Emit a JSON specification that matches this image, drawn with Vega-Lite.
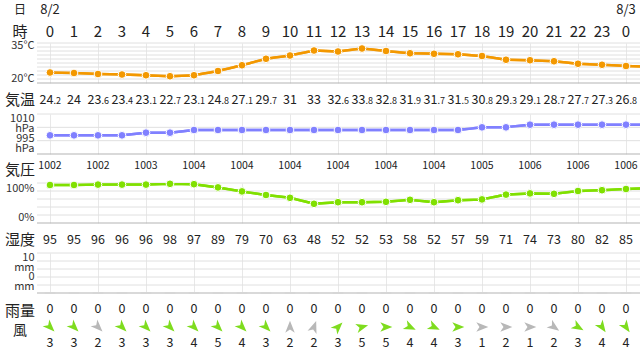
{
  "$schema": "https://vega.github.io/schema/vega-lite/v6.json",
  "padding": 0,
  "spacing": 0,
  "bounds": "flush",
  "config": {
    "view": {"stroke": null},
    "font": "Noto Sans CJK JP",
    "text": {"font": "Noto Sans CJK JP", "color": "#222"},
    "axis": {"labelFont": "Noto Sans CJK JP"}
  },
  "datasets": {
    "wx": [
      {"hour": 0, "t": 24.2, "p": 1002, "hum": 95, "rain": 0, "ws": 3, "wd": 135},
      {"hour": 1, "t": 24, "p": 1002, "hum": 95, "rain": 0, "ws": 3, "wd": 135},
      {"hour": 2, "t": 23.6, "p": 1002, "hum": 96, "rain": 0, "ws": 2, "wd": 135},
      {"hour": 3, "t": 23.4, "p": 1002, "hum": 96, "rain": 0, "ws": 3, "wd": 135},
      {"hour": 4, "t": 23.1, "p": 1003, "hum": 96, "rain": 0, "ws": 3, "wd": 135},
      {"hour": 5, "t": 22.7, "p": 1003, "hum": 98, "rain": 0, "ws": 3, "wd": 135},
      {"hour": 6, "t": 23.1, "p": 1004, "hum": 97, "rain": 0, "ws": 4, "wd": 135},
      {"hour": 7, "t": 24.8, "p": 1004, "hum": 89, "rain": 0, "ws": 5, "wd": 135},
      {"hour": 8, "t": 27.1, "p": 1004, "hum": 79, "rain": 0, "ws": 4, "wd": 135},
      {"hour": 9, "t": 29.7, "p": 1004, "hum": 70, "rain": 0, "ws": 3, "wd": 135},
      {"hour": 10, "t": 31, "p": 1004, "hum": 63, "rain": 0, "ws": 2, "wd": 0},
      {"hour": 11, "t": 33, "p": 1004, "hum": 48, "rain": 0, "ws": 2, "wd": 20},
      {"hour": 12, "t": 32.6, "p": 1004, "hum": 52, "rain": 0, "ws": 3, "wd": 45},
      {"hour": 13, "t": 33.8, "p": 1004, "hum": 52, "rain": 0, "ws": 5, "wd": 75},
      {"hour": 14, "t": 32.8, "p": 1004, "hum": 53, "rain": 0, "ws": 5, "wd": 90},
      {"hour": 15, "t": 31.9, "p": 1004, "hum": 58, "rain": 0, "ws": 4, "wd": 115},
      {"hour": 16, "t": 31.7, "p": 1004, "hum": 52, "rain": 0, "ws": 4, "wd": 115},
      {"hour": 17, "t": 31.5, "p": 1004, "hum": 57, "rain": 0, "ws": 3, "wd": 90},
      {"hour": 18, "t": 30.8, "p": 1005, "hum": 59, "rain": 0, "ws": 1, "wd": 90},
      {"hour": 19, "t": 29.3, "p": 1005, "hum": 71, "rain": 0, "ws": 2, "wd": 90},
      {"hour": 20, "t": 29.1, "p": 1006, "hum": 74, "rain": 0, "ws": 1, "wd": 90},
      {"hour": 21, "t": 28.7, "p": 1006, "hum": 73, "rain": 0, "ws": 2, "wd": 125},
      {"hour": 22, "t": 27.7, "p": 1006, "hum": 80, "rain": 0, "ws": 3, "wd": 120},
      {"hour": 23, "t": 27.3, "p": 1006, "hum": 82, "rain": 0, "ws": 4, "wd": 145},
      {"hour": 24, "t": 26.8, "p": 1006, "hum": 85, "rain": 0, "ws": 4, "wd": 145},
      {"hour": 25, "t": 26.5, "p": 1006, "hum": 87}
    ]
  },
  "vconcat": [
    {
      "width": 640, "height": 20,
      "layer": [
        {"data": {"values": [{"hour": -1.25, "label": "日"}]}, "mark": {"type": "text", "fontSize": 12},
         "encoding": {"x": {"field": "hour", "type": "quantitative", "scale": {"domain": [-2.0833, 24.5833], "nice": false, "zero": false}, "axis": null}, "text": {"field": "label"}}},
        {"data": {"values": [{"hour": 0, "d": "8/2"}, {"hour": 24, "d": "8/3"}]}, "mark": {"type": "text", "fontSize": 13},
         "encoding": {"x": {"field": "hour", "type": "quantitative", "scale": {"domain": [-2.0833, 24.5833], "nice": false, "zero": false}, "axis": null}, "text": {"field": "d"}}}
      ]
    },
    {
      "width": 640, "height": 23,
      "layer": [
        {"data": {"values": [{"hour": -1.25, "label": "時"}]}, "mark": {"type": "text", "fontSize": 15},
         "encoding": {"x": {"field": "hour", "type": "quantitative", "scale": {"domain": [-2.0833, 24.5833], "nice": false, "zero": false}, "axis": null}, "text": {"field": "label"}}},
        {"data": {"name": "wx"}, "transform": [{"filter": "datum.hour <= 24"}], "mark": {"type": "text", "fontSize": 15},
         "encoding": {"x": {"field": "hour", "type": "quantitative", "scale": {"domain": [-2.0833, 24.5833], "nice": false, "zero": false}, "axis": null},
                      "text": {"condition": {"test": "datum.hour == 24", "value": "0"}, "field": "hour", "type": "quantitative"}}}
      ]
    },
    {
      "width": 640, "height": 40,
      "layer": [
        {"data": {"name": "wx"}, "mark": {"type": "line", "color": "#f39800", "strokeWidth": 2.5, "clip": true},
         "encoding": {"x": {"field": "hour", "type": "quantitative", "scale": {"domain": [-2.0833, 24.5833], "nice": false, "zero": false},
                            "axis": {"grid": true, "values": [0,1,2,3,4,5,6,7,8,9,10,11,12,13,14,15,16,17,18,19,20,21,22,23,24], "labels": false, "ticks": false, "domain": false, "title": null, "gridColor": "#e8e8e8"}},
                      "y": {"field": "t", "type": "quantitative", "scale": {"domain": [20, 36], "nice": false, "zero": false},
                            "axis": {"values": [20, 35], "labelExpr": "datum.value + '°C'", "labelFlush": true, "grid": false, "ticks": false, "domain": false, "title": null, "offset": -37, "labelPadding": 3, "labelFontSize": 11, "labelColor": "#333"}}}},
        {"data": {"values": [{"v": 20}, {"v": 21.6}, {"v": 23.2}, {"v": 24.8}, {"v": 26.4}, {"v": 28}, {"v": 29.6}, {"v": 31.2}, {"v": 32.8}, {"v": 34.4}, {"v": 36}]},
         "mark": {"type": "rule", "strokeWidth": 1},
         "encoding": {"x": {"datum": -0.5417, "type": "quantitative"},
                      "x2": {"datum": 24.5833},
                      "y": {"field": "v", "type": "quantitative"},
                      "color": {"condition": {"test": "datum.v == 20", "value": "#b3b3b3"}, "value": "#e0e0e0"}}},
        {"data": {"name": "wx"}, "mark": {"type": "line", "color": "#f39800", "strokeWidth": 2.5, "clip": true},
         "encoding": {"x": {"field": "hour", "type": "quantitative"}, "y": {"field": "t", "type": "quantitative"}}},
        {"data": {"name": "wx"}, "transform": [{"filter": "datum.hour <= 24"}], "mark": {"type": "circle", "color": "#f39800", "stroke": "white", "strokeWidth": 1, "size": 60, "opacity": 1},
         "encoding": {"x": {"field": "hour", "type": "quantitative"}, "y": {"field": "t", "type": "quantitative"}}}
      ]
    },
    {
      "width": 640, "height": 31,
      "layer": [
        {"data": {"values": [{"hour": -1.25, "label": "気温"}]}, "mark": {"type": "text", "fontSize": 15, "dy": 1},
         "encoding": {"x": {"field": "hour", "type": "quantitative", "scale": {"domain": [-2.0833, 24.5833], "nice": false, "zero": false}, "axis": null}, "text": {"field": "label"}}},
        {"data": {"name": "wx"}, "transform": [{"filter": "datum.hour <= 24"}, {"calculate": "'' + datum.t", "as": "s"}, {"filter": "indexof(datum.s, '.') >= 0"}, {"calculate": "substring(datum.s, 0, indexof(datum.s, '.'))", "as": "ip"}],
         "mark": {"type": "text", "fontSize": 12.5, "align": "right", "baseline": "alphabetic", "dx": 3.5, "dy": 5},
         "encoding": {"x": {"field": "hour", "type": "quantitative", "scale": {"domain": [-2.0833, 24.5833], "nice": false, "zero": false}, "axis": null}, "text": {"field": "ip"}}},
        {"data": {"name": "wx"}, "transform": [{"filter": "datum.hour <= 24"}, {"calculate": "'' + datum.t", "as": "s"}, {"filter": "indexof(datum.s, '.') >= 0"}, {"calculate": "substring(datum.s, indexof(datum.s, '.'))", "as": "dp"}],
         "mark": {"type": "text", "fontSize": 9, "align": "left", "baseline": "alphabetic", "dx": 3.5, "dy": 5},
         "encoding": {"x": {"field": "hour", "type": "quantitative", "scale": {"domain": [-2.0833, 24.5833], "nice": false, "zero": false}, "axis": null}, "text": {"field": "dp"}}},
        {"data": {"name": "wx"}, "transform": [{"filter": "datum.hour <= 24"}, {"calculate": "'' + datum.t", "as": "s"}, {"filter": "indexof(datum.s, '.') < 0"}],
         "mark": {"type": "text", "fontSize": 12.5, "align": "center", "baseline": "alphabetic", "dy": 5},
         "encoding": {"x": {"field": "hour", "type": "quantitative", "scale": {"domain": [-2.0833, 24.5833], "nice": false, "zero": false}, "axis": null}, "text": {"field": "s"}}}
      ]
    },
    {
      "width": 640, "height": 40,
      "layer": [
        {"data": {"name": "wx"}, "mark": {"type": "line", "color": "#8080ff", "strokeWidth": 2.5, "clip": true},
         "encoding": {"x": {"field": "hour", "type": "quantitative", "scale": {"domain": [-2.0833, 24.5833], "nice": false, "zero": false},
                            "axis": {"grid": true, "values": [0,1,2,3,4,5,6,7,8,9,10,11,12,13,14,15,16,17,18,19,20,21,22,23,24], "labels": false, "ticks": false, "domain": false, "title": null, "gridColor": "#e8e8e8"}},
                      "y": {"field": "p", "type": "quantitative", "scale": {"domain": [995, 1010], "nice": false, "zero": false},
                            "axis": {"values": [995, 1010], "labelExpr": "[datum.value + '', 'hPa']", "labelFlush": true, "labelLineHeight": 10, "labelOffset": {"condition": {"test": "datum.value == 995", "value": -11}, "value": -2}, "grid": false, "ticks": false, "domain": false, "title": null, "offset": -37, "labelPadding": 3, "labelFontSize": 11, "labelColor": "#333"}}}},
        {"data": {"values": [{"v": 995}, {"v": 1000}, {"v": 1005}, {"v": 1010}]},
         "mark": {"type": "rule", "strokeWidth": 1},
         "encoding": {"x": {"datum": -0.5417, "type": "quantitative"},
                      "x2": {"datum": 24.5833},
                      "y": {"field": "v", "type": "quantitative"},
                      "color": {"condition": {"test": "datum.v == 995", "value": "#b3b3b3"}, "value": "#e0e0e0"}}},
        {"data": {"name": "wx"}, "mark": {"type": "line", "color": "#8080ff", "strokeWidth": 2.5, "clip": true},
         "encoding": {"x": {"field": "hour", "type": "quantitative"}, "y": {"field": "p", "type": "quantitative"}}},
        {"data": {"name": "wx"}, "transform": [{"filter": "datum.hour <= 24"}], "mark": {"type": "circle", "color": "#8080ff", "stroke": "white", "strokeWidth": 1, "size": 60, "opacity": 1},
         "encoding": {"x": {"field": "hour", "type": "quantitative"}, "y": {"field": "p", "type": "quantitative"}}}
      ]
    },
    {
      "width": 640, "height": 29,
      "layer": [
        {"data": {"values": [{"hour": -1.25, "label": "気圧"}]}, "mark": {"type": "text", "fontSize": 15, "dy": 1.5},
         "encoding": {"x": {"field": "hour", "type": "quantitative", "scale": {"domain": [-2.0833, 24.5833], "nice": false, "zero": false}, "axis": null}, "text": {"field": "label"}}},
        {"data": {"name": "wx"}, "transform": [{"filter": "datum.hour <= 24 && datum.hour % 2 == 0"}], "mark": {"type": "text", "fontSize": 10.5, "dy": -2.5},
         "encoding": {"x": {"field": "hour", "type": "quantitative", "scale": {"domain": [-2.0833, 24.5833], "nice": false, "zero": false}, "axis": null}, "text": {"field": "p", "type": "quantitative", "format": "d"}}}
      ]
    },
    {
      "width": 640, "height": 40,
      "layer": [
        {"data": {"name": "wx"}, "mark": {"type": "line", "color": "#80e000", "strokeWidth": 2.5, "clip": true},
         "encoding": {"x": {"field": "hour", "type": "quantitative", "scale": {"domain": [-2.0833, 24.5833], "nice": false, "zero": false},
                            "axis": {"grid": true, "values": [0,1,2,3,4,5,6,7,8,9,10,11,12,13,14,15,16,17,18,19,20,21,22,23,24], "labels": false, "ticks": false, "domain": false, "title": null, "gridColor": "#e8e8e8"}},
                      "y": {"field": "hum", "type": "quantitative", "scale": {"domain": [0, 100], "nice": false, "zero": false},
                            "axis": {"values": [0, 100], "labelExpr": "datum.value + '%'", "labelFlush": true, "labelOffset": -1, "grid": false, "ticks": false, "domain": false, "title": null, "offset": -37, "labelPadding": 3, "labelFontSize": 11, "labelColor": "#333"}}}},
        {"data": {"values": [{"v": 0}, {"v": 20}, {"v": 40}, {"v": 60}, {"v": 80}, {"v": 100}]},
         "mark": {"type": "rule", "strokeWidth": 1},
         "encoding": {"x": {"datum": -0.5417, "type": "quantitative"},
                      "x2": {"datum": 24.5833},
                      "y": {"field": "v", "type": "quantitative"},
                      "color": {"condition": {"test": "datum.v == 0", "value": "#b3b3b3"}, "value": "#e0e0e0"}}},
        {"data": {"name": "wx"}, "mark": {"type": "line", "color": "#80e000", "strokeWidth": 2.5, "clip": true},
         "encoding": {"x": {"field": "hour", "type": "quantitative"}, "y": {"field": "hum", "type": "quantitative"}}},
        {"data": {"name": "wx"}, "transform": [{"filter": "datum.hour <= 24"}], "mark": {"type": "circle", "color": "#80e000", "stroke": "white", "strokeWidth": 1, "size": 60, "opacity": 1},
         "encoding": {"x": {"field": "hour", "type": "quantitative"}, "y": {"field": "hum", "type": "quantitative"}}}
      ]
    },
    {
      "width": 640, "height": 30,
      "layer": [
        {"data": {"values": [{"hour": -1.25, "label": "湿度"}]}, "mark": {"type": "text", "fontSize": 15, "dy": 2},
         "encoding": {"x": {"field": "hour", "type": "quantitative", "scale": {"domain": [-2.0833, 24.5833], "nice": false, "zero": false}, "axis": null}, "text": {"field": "label"}}},
        {"data": {"name": "wx"}, "transform": [{"filter": "datum.hour <= 24"}], "mark": {"type": "text", "fontSize": 12.5, "dy": 1.5},
         "encoding": {"x": {"field": "hour", "type": "quantitative", "scale": {"domain": [-2.0833, 24.5833], "nice": false, "zero": false}, "axis": null}, "text": {"field": "hum", "type": "quantitative"}}}
      ]
    },
    {
      "width": 640, "height": 40,
      "layer": [
        {"data": {"name": "wx"}, "transform": [{"filter": "datum.hour <= 24"}], "mark": {"type": "tick", "orient": "horizontal", "size": 11, "thickness": 2, "color": "#d6d6d6", "opacity": 0},
         "encoding": {"x": {"field": "hour", "type": "quantitative", "scale": {"domain": [-2.0833, 24.5833], "nice": false, "zero": false},
                            "axis": {"grid": true, "values": [0,1,2,3,4,5,6,7,8,9,10,11,12,13,14,15,16,17,18,19,20,21,22,23,24], "labels": false, "ticks": false, "domain": false, "title": null, "gridColor": "#e8e8e8"}},
                      "y": {"field": "rain", "type": "quantitative", "scale": {"domain": [0, 10], "nice": false, "zero": false},
                            "axis": {"values": [0, 10], "labelExpr": "[datum.value + '', 'mm']", "labelFlush": true, "labelLineHeight": 10, "labelOffset": {"condition": {"test": "datum.value == 0", "value": -12}, "value": -2}, "grid": false, "ticks": false, "domain": false, "title": null, "offset": -37, "labelPadding": 3, "labelFontSize": 11, "labelColor": "#333"}}}},
        {"data": {"values": [{"v": 0}, {"v": 2}, {"v": 4}, {"v": 6}, {"v": 8}, {"v": 10}]},
         "mark": {"type": "rule", "strokeWidth": 1},
         "encoding": {"x": {"datum": -0.5417, "type": "quantitative"},
                      "x2": {"datum": 24.5833},
                      "y": {"field": "v", "type": "quantitative"},
                      "color": {"condition": {"test": "datum.v == 0", "value": "#b3b3b3"}, "value": "#e0e0e0"}}},
        {"data": {"name": "wx"}, "transform": [{"filter": "datum.hour <= 24"}], "mark": {"type": "tick", "orient": "horizontal", "size": 11, "thickness": 2, "color": "#d6d6d6", "opacity": 1},
         "encoding": {"x": {"field": "hour", "type": "quantitative"}, "y": {"field": "rain", "type": "quantitative"}}}
      ]
    },
    {
      "width": 640, "height": 24,
      "layer": [
        {"data": {"values": [{"hour": -1.25, "label": "雨量"}]}, "mark": {"type": "text", "fontSize": 15, "dy": 6},
         "encoding": {"x": {"field": "hour", "type": "quantitative", "scale": {"domain": [-2.0833, 24.5833], "nice": false, "zero": false}, "axis": null}, "text": {"field": "label"}}},
        {"data": {"name": "wx"}, "transform": [{"filter": "datum.hour <= 24"}], "mark": {"type": "text", "fontSize": 12.5, "dy": 3.5},
         "encoding": {"x": {"field": "hour", "type": "quantitative", "scale": {"domain": [-2.0833, 24.5833], "nice": false, "zero": false}, "axis": null}, "text": {"field": "rain", "type": "quantitative"}}}
      ]
    },
    {
      "width": 640, "height": 20,
      "layer": [
        {"data": {"values": [{"hour": -1.25, "label": "風"}]}, "mark": {"type": "text", "fontSize": 14, "dy": 4},
         "encoding": {"x": {"field": "hour", "type": "quantitative", "scale": {"domain": [-2.0833, 24.5833], "nice": false, "zero": false}, "axis": null}, "text": {"field": "label"}}},
        {"data": {"name": "wx"}, "transform": [{"filter": "datum.hour <= 24"}],
         "mark": {"type": "point", "shape": "M0,-1L0.75,0.9L0,0.4L-0.75,0.9Z", "filled": true, "size": 160, "opacity": 1, "strokeWidth": 0},
         "encoding": {"x": {"field": "hour", "type": "quantitative", "scale": {"domain": [-2.0833, 24.5833], "nice": false, "zero": false}, "axis": null},
                      "angle": {"field": "wd", "type": "quantitative", "scale": null},
                      "color": {"condition": {"test": "datum.ws >= 3", "value": "#7edc1e"}, "value": "#b8b8b8"}}}
      ]
    },
    {
      "width": 640, "height": 17,
      "layer": [
        {"data": {"name": "wx"}, "transform": [{"filter": "datum.hour <= 24"}], "mark": {"type": "text", "fontSize": 12.5, "dy": -2.5},
         "encoding": {"x": {"field": "hour", "type": "quantitative", "scale": {"domain": [-2.0833, 24.5833], "nice": false, "zero": false}, "axis": null}, "text": {"field": "ws", "type": "quantitative"}}}
      ]
    }
  ]
}
